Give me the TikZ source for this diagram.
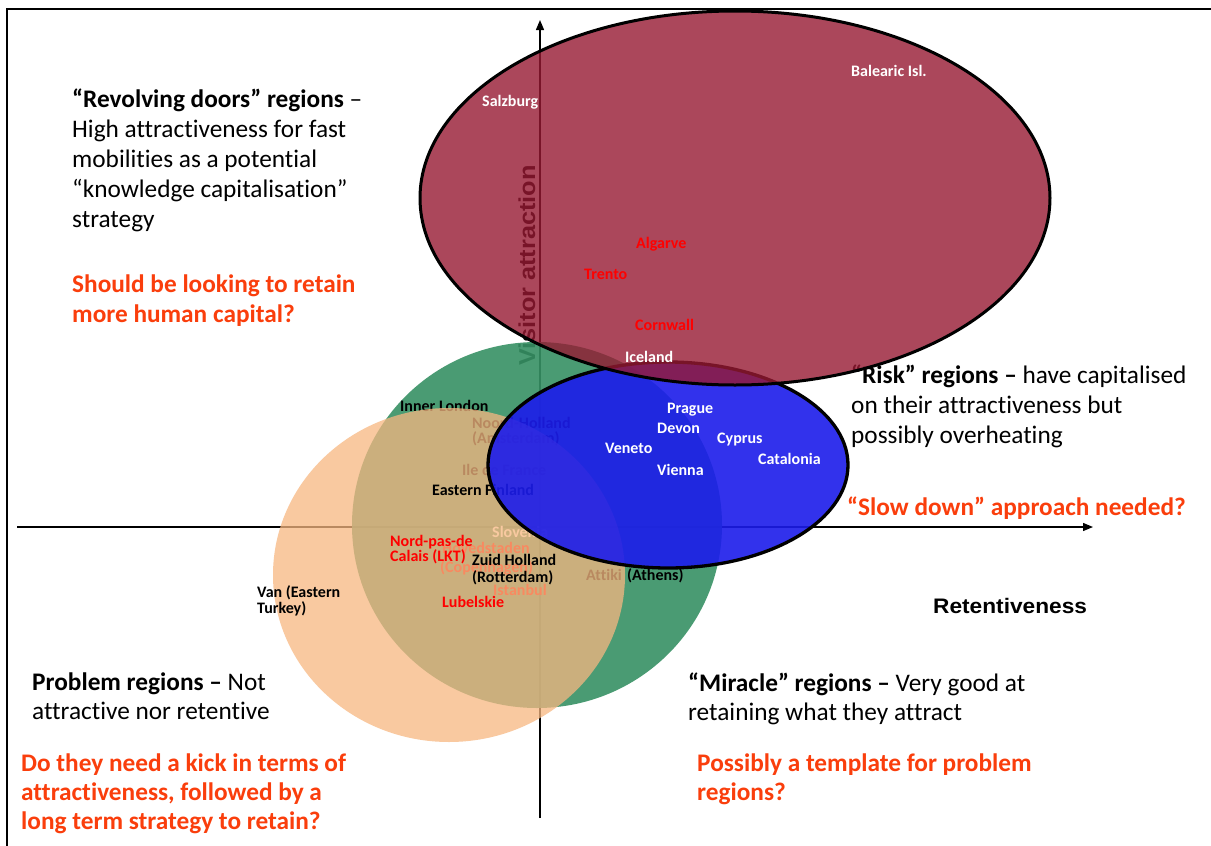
\documentclass[tikz,border=0pt]{standalone}
\usepackage{graphicx}
\usepackage{fontspec}
\setmainfont{Carlito}[Ligatures=NoCommon]
\newfontfamily\arialfont{Liberation Sans}
\usetikzlibrary{arrows.meta,shapes.geometric}
\definecolor{qred}{RGB}{250,62,12}
\definecolor{ellred}{RGB}{150,25,50}
\definecolor{ellblue}{RGB}{28,28,235}
\definecolor{ellgreen}{RGB}{55,145,100}
\definecolor{ellpeach}{RGB}{247,183,129}
\begin{document}
\begin{tikzpicture}[x=1pt,y=-1pt,
  body/.style={anchor=base west, inner sep=0pt, font=\fontsize{25.3}{30}\selectfont},
  bodyb/.style={anchor=base west, inner sep=0pt, font=\fontsize{25.3}{30}\selectfont\bfseries},
  quest/.style={bodyb, text=qred},
  lbl/.style={anchor=base west, inner sep=0pt, font=\fontsize{16}{16}\selectfont\bfseries},
  axisline/.style={line width=1.3pt, -{Triangle[length=10pt,width=8pt]}},
  region/.style={ellipse, inner sep=0pt, outer sep=0pt},
]
\useasboundingbox (0,0) rectangle (1211,846);
\fill[white] (0,0) rectangle (1211,846);

% frame
\coordinate (fbl) at (7,846);
\coordinate (ftl) at (7,9);
\coordinate (ftr) at (1211,9);
\draw[line width=2.5pt] (fbl) -- (ftl) -- (ftr);

% axes
\coordinate (xs) at (17,527);
\coordinate (xe) at (1093,527);
\coordinate (ys) at (540,818);
\coordinate (ye) at (540,20);
\draw[axisline] (xs) -- (xe);
\draw[axisline] (ys) -- (ye);

\node[anchor=base west, inner sep=0pt, rotate=90, font=\arialfont\bfseries\fontsize{23}{23}\selectfont] (yaxlbl) at (535,366) {\scalebox{1.1}[1]{Visitor attraction}};

% green region
\node[region, fill=ellgreen, fill opacity=0.9, minimum width=370pt, minimum height=366pt] (green) at (537,525) {};

% labels under peach
\node[lbl] (innerlondon) at (400,411) {Inner London};
\node[lbl] (noord1) at (472,428) {Noord-Holland};
\node[lbl] (noord2) at (472,443) {(Amsterdam)};
\node[lbl] (iledefrance) at (462,475) {Ile de France};
\node[lbl, text=white] (slovenia) at (492,537) {Slovenia};
\node[lbl, text=red] (hoved1) at (442,553) {Hovedstaden};
\node[lbl, text=red] (hoved2) at (440,572) {(Copenhagen)};
\node[lbl, text=red] (istanbul) at (493,595) {Istanbul};
\node[lbl] (attiki) at (586,580) {Attiki};

% peach region
\node[region, fill=ellpeach, fill opacity=0.75, minimum width=352pt, minimum height=334pt] (peach) at (449,575) {};

% labels over peach
\node[lbl] (easternfinland) at (432,495) {Eastern Finland};
\node[lbl, text=red] (nord1) at (390,546) {Nord-pas-de};
\node[lbl, text=red] (nord2) at (390,561) {Calais (LKT)};
\node[lbl] (zuid1) at (472,565) {Zuid Holland};
\node[lbl] (zuid2) at (472,582) {(Rotterdam)};
\node[lbl, text=red] (lubelskie) at (442,607) {Lubelskie};
\node[lbl] (van1) at (257,597) {Van (Eastern};
\node[lbl] (van2) at (257,613) {Turkey)};
\node[lbl] (athens) at (627,580) {(Athens)};

% blue region
\node[region, fill=ellblue, fill opacity=0.9, draw=black, line width=3.3pt, minimum width=360pt, minimum height=206pt] (blue) at (668,465) {};
\node[lbl, text=white] (prague) at (667,413) {Prague};
\node[lbl, text=white] (devon) at (657,433) {Devon};
\node[lbl, text=white] (cyprus) at (717,443) {Cyprus};
\node[lbl, text=white] (veneto) at (605,453) {Veneto};
\node[lbl, text=white] (catalonia) at (758,464) {Catalonia};
\node[lbl, text=white] (vienna) at (657,475) {Vienna};

% risk text (partly under red region)
\node[body] (risk1) at (851,383) {\textbf{“Risk” regions –} have capitalised};
\node[body] (risk2) at (851,413) {on their attractiveness but};
\node[body] (risk3) at (851,443) {possibly overheating};

% red region
\node[region, fill=ellred, fill opacity=0.8, draw=black, line width=3pt, minimum width=630pt, minimum height=374pt] (redreg) at (735,198) {};
\node[lbl, text=white] (balearic) at (851,76) {Balearic Isl.};
\node[lbl, text=white] (salzburg) at (482,106) {Salzburg};
\node[lbl, text=red] (algarve) at (636,248) {Algarve};
\node[lbl, text=red] (trento) at (584,279) {Trento};
\node[lbl, text=red] (cornwall) at (635,330) {Cornwall};
\node[lbl, text=white] (iceland) at (625,362) {Iceland};

% top-left text
\node[body] (rd1) at (72,107) {\textbf{“Revolving doors” regions} –};
\node[body] (rd2) at (72,137) {High attractiveness for fast};
\node[body] (rd3) at (72,167) {mobilities as a potential};
\node[body] (rd4) at (72,197) {“knowledge capitalisation”};
\node[body] (rd5) at (72,227) {strategy};
\node[quest] (rdq1) at (72,292) {Should be looking to retain};
\node[quest] (rdq2) at (72,322) {more human capital?};

% right
\node[quest] (slow) at (847,515) {“Slow down” approach needed?};
\node[anchor=base west, inner sep=0pt, font=\arialfont\bfseries\fontsize{21}{21}\selectfont] (retent) at (933,613) {\scalebox{1.08}[1]{Retentiveness}};

% bottom-left
\node[body] (pr1) at (32,690) {\textbf{Problem regions –} Not};
\node[body] (pr2) at (32,719) {attractive nor retentive};
\node[quest] (prq1) at (21,771) {Do they need a kick in terms of};
\node[quest] (prq2) at (21,800) {attractiveness, followed by a};
\node[quest] (prq3) at (21,829) {long term strategy to retain?};

% bottom-right
\node[body] (mr1) at (688,691) {\textbf{“Miracle” regions –} Very good at};
\node[body] (mr2) at (688,720) {retaining what they attract};
\node[quest] (mrq1) at (697,771) {Possibly a template for problem};
\node[quest] (mrq2) at (697,800) {regions?};
\end{tikzpicture}
\end{document}
